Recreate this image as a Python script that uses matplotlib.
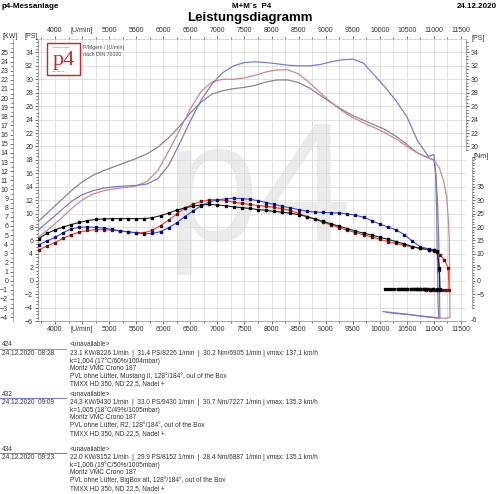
import matplotlib
matplotlib.use("Agg")
import matplotlib.pyplot as plt
from matplotlib.ticker import MultipleLocator, FixedLocator
from matplotlib.patches import Rectangle
from matplotlib.lines import Line2D

plt.rcParams['font.family'] = ['Liberation Sans', 'DejaVu Sans']

# ---- power curves [PS] ----
rpm_power = [3700, 3900, 4100, 4300, 4500, 4700, 4900, 5100, 5300, 5500, 5700, 5900,
             6100, 6300, 6500, 6700, 6900, 7100, 7300, 7500, 7700, 7900, 8100, 8300,
             8500, 8700, 8900, 9100, 9300, 9500, 9700, 9900, 10100, 10300, 10500,
             10700, 10900, 11000]
ps_424 = [6.5, 7.8, 9.2, 10.7, 12.0, 12.9, 13.4, 13.7, 13.9, 14.1, 14.8, 16.4,
          19.3, 22.4, 25.6, 28.2, 29.6, 30.0, 30.0, 30.2, 30.6, 31.1, 31.4, 31.4,
          30.8, 29.5, 28.0, 26.6, 25.3, 24.3, 23.5, 22.8, 22.0, 21.1, 20.0,
          19.0, 18.3, 17.9]
ps_432 = [7.6, 9.0, 10.4, 11.8, 12.8, 13.4, 13.8, 14.0, 14.1, 14.2, 14.4, 15.2,
          17.2, 20.4, 23.8, 26.9, 29.3, 31.0, 32.0, 32.5, 32.6, 32.5, 32.3, 32.1,
          32.0, 32.0, 32.2, 32.6, 32.9, 33.0, 32.4, 30.6, 28.8, 26.8, 24.4,
          20.8, 18.5, 18.8]
ps_434 = [8.9, 10.4, 11.9, 13.4, 14.7, 15.7, 16.4, 17.0, 17.6, 18.2, 18.9, 19.9,
          21.3, 23.0, 25.0, 26.6, 27.8, 28.3, 28.6, 28.8, 29.1, 29.6, 29.9, 29.9,
          29.5, 28.7, 27.6, 26.5, 25.5, 24.6, 23.9, 23.2, 22.5, 21.5, 20.3,
          19.0, 18.3, 18.0]

# end of run + roll-out
rpm_end_ps_424 = [11100, 11180, 11235, 11270, 11283, 11290, 11295, 11200, 11050]
ps_end_424 = [16.8, 14.8, 12.5, 8.5, 6.1, 0.0, -5.5, -5.6, -5.5]
rpm_end_ps_432 = [11040, 11070, 11090, 11100, 11110, 10900, 10700, 10500, 10300, 10120]
ps_end_432 = [15.5, 11.0, 5.5, -1.0, -5.6, -5.4, -5.2, -5.0, -4.9, -4.7]
rpm_end_ps_434 = [11030, 11050, 11065, 11075, 11085, 10900, 10700, 10500, 10300, 10060]
ps_end_434 = [16.0, 10.0, 2.0, -3.0, -5.5, -5.4, -5.2, -5.0, -4.8, -4.6]

# ---- torque curves [Nm] ----
rpm_torque = [3700, 3850, 4000, 4150, 4300, 4450, 4600, 4750, 4900, 5050, 5200, 5350,
              5500, 5650, 5800, 5950, 6100, 6250, 6400, 6550, 6700, 6850, 7000, 7150,
              7300, 7450, 7600, 7750, 7900, 8050, 8200, 8350, 8500, 8650, 8800, 8950,
              9100, 9250, 9400, 9550, 9700, 9850, 10000, 10150, 10300, 10450, 10600,
              10750, 10900, 11000]
nm_424 = [11.5, 12.9, 14.2, 15.8, 17.1, 18.1, 18.7, 19.0, 19.0, 18.8, 18.5, 18.2,
          17.9, 17.9, 18.8, 20.5, 22.6, 24.9, 27.0, 28.6, 29.5, 30.1, 30.2, 29.8,
          29.3, 28.8, 28.4, 28.0, 27.7, 27.3, 26.8, 26.1, 25.1, 23.9, 22.9, 21.8,
          20.8, 19.8, 18.8, 17.9, 17.1, 16.3, 15.4, 14.6, 13.9, 13.2, 12.6,
          12.1, 11.5, 11.0]
nm_432 = [13.4, 14.8, 16.1, 17.9, 19.3, 19.9, 20.0, 19.9, 19.6, 19.1, 18.6, 18.2,
          17.8, 17.5, 17.6, 18.3, 19.7, 21.6, 23.9, 26.0, 27.9, 29.3, 30.1, 30.5,
          30.7, 30.6, 30.3, 29.8, 29.1, 28.4, 27.7, 27.1, 26.5, 25.9, 25.6, 25.4,
          25.3, 25.2, 24.9, 24.4, 23.6, 22.4, 21.1, 20.0, 18.9, 17.2, 14.8,
          12.6, 11.9, 11.5]
nm_434 = [15.7, 17.6, 18.9, 20.0, 20.9, 21.7, 22.4, 22.8, 23.0, 23.1, 23.1, 23.1,
          23.1, 23.1, 23.5, 24.2, 25.2, 26.3, 27.1, 27.8, 28.2, 28.4, 28.2, 27.9,
          27.5, 27.2, 26.9, 26.5, 26.2, 25.8, 25.5, 25.1, 24.6, 23.9, 23.0, 22.1,
          21.2, 20.3, 19.4, 18.5, 17.7, 17.0, 16.2, 15.4, 14.6, 13.7, 12.7,
          12.0, 11.6, 11.3]

rpm_end_nm_424 = [11110, 11190, 11264, 11280, 11220, 11160, 11100, 11040, 10980,
                  10920, 10860, 10800, 10740, 10680]
nm_end_424 = [9.7, 7.8, 4.7, -3.4, -3.4, -3.3, -3.4, -3.3, -3.3, -3.2, -3.3,
              -3.2, -3.2, -3.2]
rpm_end_nm_432 = [11060, 11100, 11110, 11050, 10990, 10930, 10870, 10810, 10750,
                  10690, 10630, 10570, 10510, 10450, 10390, 10330]
nm_end_432 = [10.8, 4.1, -3.3, -3.3, -3.2, -3.3, -3.2, -3.2, -3.2, -3.1, -3.2,
              -3.2, -3.1, -3.1, -3.1, -3.1]
rpm_end_nm_434 = [11060, 11100, 11110, 11050, 10990, 10930, 10870, 10810, 10750,
                  10690, 10630, 10570, 10510, 10450, 10390, 10330, 10270, 10210,
                  10150, 10100]
nm_end_434 = [11.0, 4.7, -3.2, -3.2, -3.2, -3.3, -3.2, -3.2, -3.2, -3.1, -3.2,
              -3.2, -3.1, -3.1, -3.2, -3.1, -3.1, -3.0, -3.1, -3.0]

# ---- run info ----
run_ids = ['424', '432', '434']
run_times = ['24.12.2020  08:28', '24.12.2020  09:09', '24.12.2020  09:23']
run_results = [
    '23.1 KW/8226 1/min  |  31.4 PS/8226 1/min  |  30.2 Nm/6905 1/min | vmax: 137.1 km/h',
    '24.3 KW/9430 1/min  |  33.0 PS/9430 1/min  |  30.7 Nm/7227 1/min | vmax: 135.3 km/h',
    '22.0 KW/8152 1/min  |  29.9 PS/8152 1/min  |  28.4 Nm/6887 1/min | vmax: 135.1 km/h',
]
run_k = ['k=1,004 (17°C/60%/1004mbar)', 'k=1,005 (18°C/49%/1005mbar)',
         'k=1,006 (19°C/50%/1005mbar)']
run_bike = ['Moritz VMC Crono 187'] * 3
run_setup = ['PVL ohne Lüfter, Mustang II, 128°/184°, out of the Box',
             'PVL ohne Lüfter, R2, 128°/184°, out of the Box',
             'PVL ohne Lüfter, BigBox alt, 128°/184°, out of the Box']
run_carb = ['TMXX HD 350, ND 22,5, Nadel +'] * 3

x_ticks = list(range(4000, 12000, 500))
x_labels = ['[U/min]' if t == 4500 else str(t) for t in x_ticks]

power_colors = {'424': '#c98a8a', '432': '#7b7bd0', '434': '#8a8294'}
torque_colors = {'424': '#e8402e', '432': '#3a4fd8', '434': '#202020'}
marker_colors = {'424': '#6a1414', '432': '#12125a', '434': '#000000'}

W, H = 500, 494
fig = plt.figure(figsize=(W / 100, H / 100), dpi=100)


def fx(px):
    return px / W


def fy(py):
    return 1 - py / H


tick_col = '#333333'
spine_col = '#9a9a9a'

ax = fig.add_axes([fx(38), fy(321), fx(466) - fx(38), fy(39) - fy(321)])
ax.set_xlim(3686, 11592)
ax.set_ylim(-6, 36)
ax.set_xticks(x_ticks)
ax.set_xticklabels(x_labels)
ax.xaxis.set_minor_locator(MultipleLocator(250))
ax.set_yticks(range(-6, 35, 2))
ax.yaxis.set_minor_locator(MultipleLocator(0.5))
ax.grid(True, which='major', color='#dcdcdc', lw=0.6)
ax.grid(True, which='minor', axis='x', color='#dcdcdc', lw=0.6)
ax.tick_params(axis='both', which='both', labelsize=5, colors=tick_col,
               length=2, width=0.5, pad=1.5)
ax.tick_params(axis='x', which='both', top=True, labeltop=True)
ax.tick_params(axis='x', which='minor', length=1.5)
ax.tick_params(axis='y', which='minor', length=1.2)
for s in ['left', 'bottom']:
    ax.spines[s].set_color(spine_col)
    ax.spines[s].set_linewidth(0.6)
ax.spines['top'].set_color('#c4c4c4')
ax.spines['top'].set_linestyle((0, (3, 2)))
ax.spines['top'].set_linewidth(0.6)
ax.spines['right'].set_visible(False)

# watermark
ax.text(fx(258), fy(240), 'p4', transform=fig.transFigure, fontsize=121,
        color='#ebebeb', ha='center', va='baseline', zorder=0.2)

# power curves
for rid, ps, rpm_e, ps_e in [('434', ps_434, rpm_end_ps_434, ps_end_434),
                             ('424', ps_424, rpm_end_ps_424, ps_end_424),
                             ('432', ps_432, rpm_end_ps_432, ps_end_432)]:
    ax.plot(rpm_power + rpm_e, ps + ps_e, color=power_colors[rid], lw=0.9, zorder=3)

# KW axis (left, outer)
ax_kw = ax.twinx()
ax_kw.set_ylim(-6 / 1.36, 36 / 1.36)
ax_kw.yaxis.tick_left()
ax_kw.spines['left'].set_visible(True)
ax_kw.spines['left'].set_position(('outward', 18))
ax_kw.spines['left'].set_color(spine_col)
ax_kw.spines['left'].set_linewidth(0.6)
for s in ['right', 'top', 'bottom']:
    ax_kw.spines[s].set_visible(False)
ax_kw.set_yticks(range(-4, 26))
ax_kw.yaxis.set_minor_locator(MultipleLocator(0.5))
ax_kw.tick_params(axis='y', which='both', labelsize=5, colors=tick_col,
                  length=2, width=0.5, pad=1.5)
ax_kw.tick_params(axis='y', which='minor', length=1.2)

# PS axis (right, upper part)
ax_psr = ax.twinx()
ax_psr.set_ylim(-6, 36)
for s in ['left', 'top', 'bottom']:
    ax_psr.spines[s].set_visible(False)
ax_psr.spines['right'].set_bounds(19.5, 36)
ax_psr.spines['right'].set_color(spine_col)
ax_psr.spines['right'].set_linewidth(0.6)
ax_psr.set_yticks(range(20, 35, 2))
ax_psr.yaxis.set_minor_locator(FixedLocator([v / 2 for v in range(39, 72)]))
ax_psr.tick_params(axis='y', which='both', labelsize=5, colors=tick_col,
                   length=2, width=0.5, pad=1.5)
ax_psr.tick_params(axis='y', which='minor', length=1.2)

# Nm axis (right, lower part)
ax_nm = ax.twinx()
ax_nm.set_ylim(-15, 90)
for s in ['left', 'top', 'bottom']:
    ax_nm.spines[s].set_visible(False)
ax_nm.spines['right'].set_position(('outward', 4))
ax_nm.spines['right'].set_bounds(-10, 46)
ax_nm.spines['right'].set_color(spine_col)
ax_nm.spines['right'].set_linewidth(0.6)
ax_nm.set_yticks(range(-5, 36, 5))
ax_nm.yaxis.set_minor_locator(FixedLocator(list(range(-10, 47))))
ax_nm.tick_params(axis='y', which='both', labelsize=5, colors=tick_col,
                  length=2, width=0.5, pad=1.5)
ax_nm.tick_params(axis='y', which='minor', length=1.2)

for rid, nm, rpm_e, nm_e in [('424', nm_424, rpm_end_nm_424, nm_end_424),
                             ('432', nm_432, rpm_end_nm_432, nm_end_432),
                             ('434', nm_434, rpm_end_nm_434, nm_end_434)]:
    ax_nm.plot(rpm_torque + rpm_e, nm + nm_e, color=torque_colors[rid], lw=0.8,
               marker='s', ms=1.8, mfc=marker_colors[rid], mec=marker_colors[rid],
               zorder=4)

# axis unit labels
unit_kw = dict(fontsize=5, color=tick_col, ha='center', va='center')
fig.text(fx(10), fy(37), '[KW]', **unit_kw)
fig.text(fx(31), fy(37), '[PS]', **unit_kw)
fig.text(fx(478), fy(38), '[PS]', **unit_kw)
fig.text(fx(481), fy(157), '[Nm]', **unit_kw)
fig.text(fx(474), fy(321), '-6', **unit_kw)

# header
fig.text(fx(2), fy(6), 'p4-Messanlage', fontsize=5.8, fontweight='bold', va='center')
fig.text(fx(252), fy(6), 'M+M`s  P4', fontsize=5.8, fontweight='bold',
         ha='center', va='center')
fig.text(fx(497), fy(6), '24.12.2020', fontsize=5.8, fontweight='bold',
         ha='right', va='center')
fig.text(fx(250), fy(17.5), 'Leistungsdiagramm', fontsize=9.5, fontweight='bold',
         ha='center', va='center')

# logo
ax.add_patch(Rectangle((fx(47), fy(75)), fx(80) - fx(47), fy(43) - fy(75),
                       transform=fig.transFigure, facecolor='white',
                       edgecolor='#c0282d', lw=1.0, clip_on=False, zorder=5))
ax.text(fx(63.5), fy(65.5), 'p4', transform=fig.transFigure,
        fontfamily='Liberation Serif', fontsize=16, color='#c0282d',
        ha='center', va='baseline', zorder=6)
ax.text(fx(52), fy(47), 'Leistungsmessung', transform=fig.transFigure,
        fontsize=1.6, color='#555555', va='center', zorder=6)
ax.text(fx(52), fy(71.5), 'copyright p4', transform=fig.transFigure,
        fontsize=1.6, color='#555555', va='center', zorder=6)
ax.text(fx(83), fy(47), 'P/Mgem / [U/min]', transform=fig.transFigure,
        fontsize=3.8, color='#444444', va='center', zorder=6)
ax.text(fx(83), fy(55), 'nach DIN 70020', transform=fig.transFigure,
        fontsize=3.8, color='#444444', va='center', zorder=6)

# run legend blocks
block_tops = [344.5, 394, 449]
txt = dict(fontsize=4.7, color='#333333', va='center')
for i, rid in enumerate(run_ids):
    y0 = block_tops[i]
    fig.text(fx(2), fy(y0), rid, **txt)
    fig.add_artist(Line2D([fx(0), fx(66)], [fy(y0 + 4), fy(y0 + 4)],
                          transform=fig.transFigure, color=power_colors[rid], lw=0.8))
    fig.text(fx(2), fy(y0 + 8.5), run_times[i], **txt)
    fig.text(fx(70), fy(y0), '<unavailable>', **txt)
    rows = [run_results[i], run_k[i], run_bike[i], run_setup[i], run_carb[i]]
    for j, row in enumerate(rows):
        fig.text(fx(70), fy(y0 + 8.5 + 7.7 * j), row, **txt)

fig.savefig('out.png', dpi=100)
